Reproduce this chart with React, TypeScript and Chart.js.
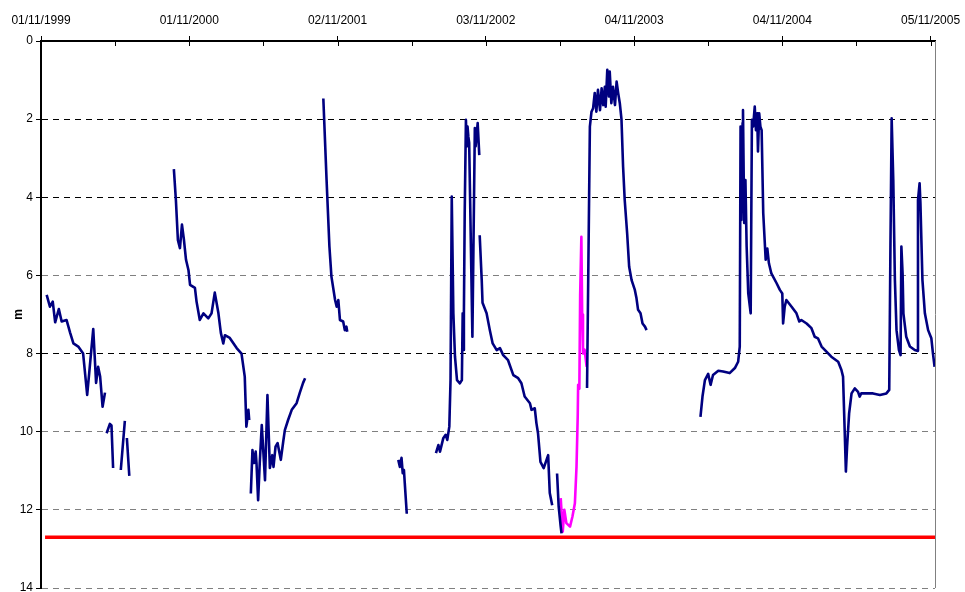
import { useEffect, useRef } from "react";
import { Chart, registerables } from "chart.js";

Chart.register(...registerables);

// Time axis in days since 01/11/1999
const tickDays = [0, 183, 366, 549, 732, 915, 1098, 1281, 1464, 1647, 1830, 2013, 2196];
const tickLabels = ["01/11/1999", "01/11/2000", "02/11/2001", "03/11/2002", "04/11/2003", "04/11/2004", "05/11/2005"];
const axisMaxDay = 2207;
const depthTicks = [0, 2, 4, 6, 8, 10, 12, 14];

// Water level (m below reference), null = no record
const navyDays = [
  14, 22, 29, 35, 44, 51, 63, 72, 80, 92, 104, 114, 119, 129, 136, 141, 146, 152, 158,
  160,
  162, 170, 174, 178,
  188,
  197, 207,
  210,
  212, 218,
  270,
  328, 333, 338, 343, 348, 353, 358, 364, 368, 380, 384, 392, 401, 413, 421, 429, 438, 444, 450, 454, 466, 483, 495, 503, 507, 512, 514,
  516,
  518, 522, 526, 530, 532, 536, 540, 545, 553, 559, 565, 571, 574, 579, 584, 592, 598, 602, 610, 619, 631, 639, 647, 652,
  680,
  697, 705, 712, 717, 726, 730, 734, 738, 746, 750, 754, 756,
  820,
  882, 886, 890, 893, 896, 898, 903,
  940,
  975, 981, 985, 993, 999, 1003, 1008, 1011, 1014, 1018, 1022, 1027, 1034, 1039, 1041, 1042, 1044, 1046, 1049, 1051, 1053, 1055, 1057, 1065, 1071, 1073, 1078, 1082,
  1082.5,
  1083, 1088, 1090, 1100, 1108, 1115, 1125, 1133, 1141, 1153, 1166, 1178, 1186, 1194, 1207, 1211, 1219, 1223, 1227, 1233, 1241, 1248, 1252, 1256, 1262,
  1268,
  1274, 1278, 1283, 1285,
  1320,
  1348, 1355, 1359, 1363, 1367, 1371, 1375, 1380, 1384, 1388, 1392, 1394, 1398, 1402, 1404, 1408, 1412, 1417, 1421, 1425, 1429, 1433, 1437, 1441, 1447, 1452, 1458, 1466, 1470, 1474, 1480, 1485, 1491, 1495,
  1560,
  1628, 1633, 1639, 1647, 1653, 1659, 1672, 1684, 1700, 1713, 1721, 1725, 1727, 1729, 1732, 1733, 1736, 1739, 1742, 1746, 1752, 1755, 1758, 1762, 1765, 1768, 1770, 1773, 1776, 1779, 1783, 1789, 1793, 1797, 1803, 1816, 1824, 1830, 1832, 1836, 1840, 1853, 1865, 1872, 1877, 1890, 1902, 1910, 1918, 1927, 1939, 1951, 1968, 1976, 1980, 1984, 1987, 1990, 1995, 2001, 2009, 2017, 2021, 2025, 2038, 2054, 2071, 2087, 2094, 2097, 2100, 2104, 2108, 2112, 2118, 2122, 2124, 2127, 2129, 2136, 2145, 2157, 2163, 2165, 2169, 2171, 2176, 2182, 2190, 2198, 2202, 2206,
];
const navyDepth = [
  6.5, 6.8, 6.67, 7.2, 6.86, 7.18, 7.14, 7.47, 7.74, 7.82, 8.0, 9.06, 8.5, 7.37, 8.75, 8.34, 8.59, 9.36, 9.0,
  null,
  10.04, 9.8, 9.84, 10.93,
  null,
  10.98, 9.72,
  null,
  10.16, 11.13,
  null,
  3.28, 4.07, 5.1, 5.3, 4.7, 5.1, 5.6, 5.86, 6.24, 6.32, 6.67, 7.14, 6.97, 7.1, 6.97, 6.44, 6.97, 7.47, 7.74, 7.53, 7.6, 7.86, 8.0, 8.59, 9.87, 9.44, 9.7,
  null,
  11.58, 10.47, 10.8, 10.51, 10.8, 11.75, 10.8, 9.83, 11.24, 9.06, 10.93, 10.6, 10.9, 10.38, 10.29, 10.72, 10.25, 9.96, 9.7, 9.44, 9.27, 9.0, 8.75, 8.63,
  null,
  1.47, 3.56, 5.26, 6.03, 6.63, 6.8, 6.63, 7.14, 7.18, 7.4, 7.31, 7.44,
  null,
  10.72, 10.9, 10.67, 11.06, 10.98, 11.31, 12.1,
  null,
  10.55, 10.34, 10.51, 10.17, 10.08, 10.21, 9.87, 8.68, 3.98, 6.97, 8.08, 8.68, 8.76, 8.68, 6.97, 7.91, 6.97, 4.4, 2.02, 2.7, 2.19, 2.45, 2.6, 7.57, 2.23, 2.7, 2.1, 2.92,
  null,
  4.97, 6.12, 6.7, 6.97, 7.4, 7.74, 7.91, 7.86, 8.04, 8.17, 8.55, 8.63, 8.76, 9.1, 9.27, 9.44, 9.4, 9.78, 10.04, 10.77, 10.93, 10.72, 10.6, 11.57, 11.88,
  null,
  11.07, 11.92, 12.43, 12.6,
  null,
  8.88, 2.19, 1.81, 1.72, 1.33, 1.81, 1.25, 1.77, 1.21, 1.64, 1.17, 1.68, 0.74, 1.42, 0.78, 1.59, 1.17, 1.64, 1.04, 1.34, 1.6, 2.0, 3.22, 4.07, 4.92, 5.78, 6.12, 6.37, 6.58, 6.88, 6.97, 7.23, 7.31, 7.4,
  null,
  9.62, 9.1, 8.68, 8.52, 8.8, 8.55, 8.44, 8.46, 8.5, 8.37, 8.21, 7.82, 2.19, 4.58, 2.1, 1.77, 4.66, 3.56, 5.26, 6.46, 6.97, 2.02, 2.19, 1.68, 2.28, 1.85, 2.83, 1.85, 2.19, 2.28, 4.41, 5.6, 5.31, 5.69, 5.95, 6.2, 6.37, 6.46, 7.23, 6.8, 6.63, 6.8, 6.97, 7.18, 7.14, 7.23, 7.35, 7.57, 7.61, 7.82, 7.95, 8.08, 8.21, 8.42, 8.59, 9.96, 11.02, 10.38, 9.53, 9.02, 8.89, 8.98, 9.1, 9.02, 9.02, 9.02, 9.06, 9.02, 8.93, 5.26, 1.98, 3.56, 6.12, 7.4, 7.91, 8.04, 5.26, 5.95, 6.97, 7.57, 7.82, 7.91, 7.93, 4.07, 3.64, 4.15, 6.12, 6.97, 7.4, 7.61, 8.0, 8.34,
];

const pinkDays = [1283, 1288, 1292, 1297, 1306, 1312, 1318, 1322, 1325, 1326, 1329, 1331, 1334, 1336, 1338, 1342, 1347];
const pinkDepth = [11.7, 12.56, 12.0, 12.34, 12.43, 12.17, 11.83, 10.9, 9.6, 8.8, 8.9, 6.5, 5.01, 7.0, 8.0, 7.9, 8.34];

const redDays = [10, 2207];
const redDepth = [12.7, 12.7];

const FONT = "'Liberation Sans', Arial, Helvetica, sans-serif";

function toPoints(days: number[], vals: (number | null)[]) {
  return days.map((d, i) => ({ x: d, y: vals[i] }));
}

const framePlugin = {
  id: "frame",
  afterDatasetsDraw(chart: any) {
    const { ctx, chartArea, scales } = chart;
    const { top, bottom, right } = chartArea;
    ctx.save();
    ctx.strokeStyle = "#808080";
    ctx.lineWidth = 1;
    ctx.beginPath();
    const rx = Math.round(right) + 0.5;
    ctx.moveTo(rx, top);
    ctx.lineTo(rx, bottom);
    ctx.stroke();
    ctx.strokeStyle = "#000";
    ctx.beginPath();
    scales.x.ticks.forEach((t: any) => {
      const px = Math.round(scales.x.getPixelForValue(t.value)) + 0.5;
      ctx.moveTo(px, top);
      ctx.lineTo(px, top + 5);
    });
    ctx.stroke();
    ctx.restore();
  },
};

export default function App() {
  const ref = useRef<HTMLCanvasElement | null>(null);

  useEffect(() => {
    if (!ref.current) return;
    const chart = new Chart(ref.current, {
      type: "line",
      data: {
        datasets: [
          {
            data: toPoints(navyDays, navyDepth),
            borderColor: "#000080",
            borderWidth: 2.6,
            pointRadius: 0,
            tension: 0,
            spanGaps: false,
            borderJoinStyle: "round",
          },
          {
            data: toPoints(pinkDays, pinkDepth),
            borderColor: "#FF00FF",
            borderWidth: 2.6,
            pointRadius: 0,
            tension: 0,
            borderJoinStyle: "round",
          },
          {
            data: toPoints(redDays, redDepth),
            borderColor: "#FF0000",
            borderWidth: 3.5,
            pointRadius: 0,
            tension: 0,
          },
        ],
      },
      options: {
        animation: false,
        responsive: false,
        devicePixelRatio: 1,
        layout: { padding: { left: 7, right: 30, top: 0, bottom: 4 } },
        plugins: { legend: { display: false }, tooltip: { enabled: false } },
        scales: {
          x: {
            type: "linear",
            position: "top",
            min: 0,
            max: axisMaxDay,
            afterBuildTicks: (s: any) => {
              s.ticks = tickDays.map((v) => ({ value: v }));
            },
            afterFit: (s: any) => {
              s.height = 41;
              s.paddingLeft = 0;
              s.paddingRight = 0;
            },
            ticks: {
              autoSkip: false,
              maxRotation: 0,
              minRotation: 0,
              padding: 8,
              color: "#000",
              font: { family: FONT, size: 12 },
              callback: (_v: any, i: number) => (i % 2 === 0 ? tickLabels[i / 2] : ""),
            },
            grid: {
              drawOnChartArea: false,
              drawTicks: true,
              tickLength: 5,
              tickWidth: 1,
              tickColor: (c: any) => (c.index % 2 === 0 ? "#000" : "rgba(0,0,0,0)"),
            },
            border: { display: true, color: "#000", width: 2 },
          },
          y: {
            type: "linear",
            reverse: true,
            min: 0,
            max: 14,
            afterBuildTicks: (s: any) => {
              s.ticks = depthTicks.map((v) => ({ value: v }));
            },
            afterFit: (s: any) => {
              s.width = 34;
              s.paddingTop = 0;
              s.paddingBottom = 0;
            },
            ticks: {
              padding: 3,
              color: "#000",
              font: { family: FONT, size: 12 },
            },
            title: {
              display: true,
              text: "m",
              color: "#000",
              font: { family: FONT, size: 12, weight: "bold" },
              padding: { top: 4, bottom: 4 },
            },
            grid: {
              color: (c: any) => ([2, 4, 8].includes(c.tick?.value) ? "#000" : "#808080"),
              lineWidth: 1,
              tickLength: 5,
              tickColor: "#000",
              tickWidth: 1,
            },
            border: { display: true, color: "#000", width: 2, dash: [6, 5] },
          },
        },
      },
      plugins: [framePlugin],
    } as any);
    return () => chart.destroy();
  }, []);

  return (
    <div style={{ position: "absolute", left: 0, top: 0, width: 965, height: 592, background: "#fff" }}>
      <canvas ref={ref} width={965} height={592} style={{ display: "block" }} />
    </div>
  );
}
